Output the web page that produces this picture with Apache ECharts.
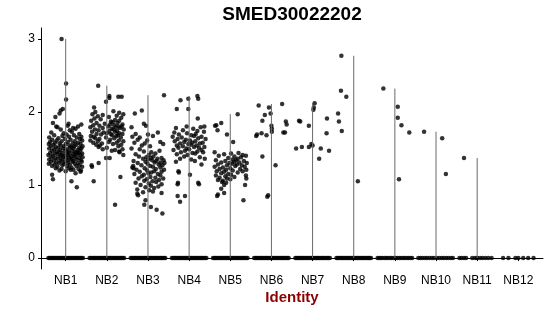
<!DOCTYPE html>
<html><head><meta charset="utf-8">
<script src="https://cdn.jsdelivr.net/npm/echarts@6/dist/echarts.min.js"></script>
<style>html,body{margin:0;padding:0;background:#fff}#c{width:550px;height:316px}</style>
</head><body><div id="c"></div>
<script>
const FONT = '"Liberation Sans", Arial, Helvetica, sans-serif';
const categories = ['NB1','NB2','NB3','NB4','NB5','NB6','NB7','NB8','NB9','NB10','NB11','NB12'];
const yTicks = [0, 1, 2, 3];

// non-zero points per group: [jitter offset (category units), expression value]
const nb1 = [
[-0.10,3.00],[0.01,2.39],[0.01,2.17],[-0.07,2.04],[-0.12,2.02],[-0.15,1.98],[-0.25,1.93],[-0.31,1.85],[-0.23,1.80],[0.07,1.84],[0.38,1.83],[-0.31,1.08],[-0.33,1.14],[0.14,1.05],[0.27,0.97],[0.37,1.20],[0.24,1.16],
[-0.20,1.79],[0.05,1.81],[0.18,1.78],[0.30,1.80],
[-0.12,1.76],[0.10,1.75],[0.24,1.77],
[-0.35,1.72],[-0.05,1.71],[0.15,1.73],[0.33,1.70],
[-0.28,1.68],[-0.08,1.67],[0.02,1.69],[0.20,1.68],[0.38,1.66],
[-0.40,1.65],[-0.18,1.64],[0.08,1.66],[0.27,1.65],[0.35,1.63],
[-0.33,1.62],[-0.22,1.61],[-0.02,1.63],[0.12,1.62],[0.22,1.60],[0.40,1.61],
[-0.38,1.59],[-0.26,1.58],[-0.10,1.60],[0.05,1.59],[0.17,1.57],[0.30,1.58],
[-0.41,1.56],[-0.30,1.55],[-0.15,1.57],[0.00,1.56],[0.09,1.54],[0.25,1.55],[0.36,1.56],
[-0.36,1.53],[-0.24,1.52],[-0.12,1.54],[-0.04,1.53],[0.14,1.52],[0.21,1.53],[0.33,1.51],[0.41,1.53],
[-0.40,1.50],[-0.28,1.49],[-0.18,1.51],[-0.06,1.50],[0.03,1.49],[0.11,1.51],[0.19,1.50],[0.29,1.48],[0.38,1.50],
[-0.33,1.47],[-0.22,1.46],[-0.13,1.48],[-0.01,1.47],[0.07,1.46],[0.16,1.47],[0.26,1.45],[0.35,1.47],
[-0.38,1.44],[-0.27,1.43],[-0.16,1.45],[-0.08,1.44],[0.02,1.43],[0.09,1.44],[0.18,1.42],[0.23,1.45],[0.31,1.44],[0.40,1.43],
[-0.42,1.41],[-0.31,1.40],[-0.20,1.42],[-0.11,1.41],[-0.03,1.40],[0.05,1.41],[0.13,1.39],[0.21,1.40],[0.28,1.42],[0.36,1.41],
[-0.35,1.38],[-0.25,1.37],[-0.14,1.39],[-0.06,1.38],[0.01,1.37],[0.08,1.38],[0.15,1.36],[0.24,1.38],[0.33,1.37],[0.41,1.38],
[-0.40,1.35],[-0.29,1.34],[-0.19,1.36],[-0.09,1.35],[0.04,1.34],[0.12,1.35],[0.19,1.33],[0.27,1.35],[0.37,1.34],
[-0.36,1.32],[-0.23,1.31],[-0.12,1.33],[-0.02,1.32],[0.06,1.31],[0.17,1.32],[0.30,1.30],[0.39,1.32],
[-0.41,1.29],[-0.27,1.28],[-0.16,1.30],[-0.05,1.29],[0.10,1.28],[0.22,1.29],[0.34,1.27],
[-0.33,1.26],[-0.20,1.25],[-0.08,1.27],[0.03,1.26],[0.14,1.24],[0.26,1.26],[0.40,1.25],
[-0.24,1.23],[-0.10,1.22],[0.07,1.23],[0.19,1.21],[0.31,1.22],
[-0.15,1.20],[0.00,1.19],[0.12,1.21],[0.36,1.18]
];
const nb2 = [
[-0.21,2.36],[-0.31,2.06],[0.28,2.21],[0.36,2.21],[0.06,2.22],[0.06,2.19],[-0.02,2.14],[-0.32,1.05],[0.20,0.73],[0.33,1.11],[-0.37,1.27],[-0.36,1.25],[-0.20,1.30],[-0.02,1.37],[0.07,1.37],[0.40,1.41],[0.31,1.45],
[-0.28,2.00],[0.16,2.01],[0.30,1.99],
[-0.35,1.97],[-0.10,1.96],[0.40,1.97],
[-0.22,1.94],[0.05,1.93],[0.24,1.95],
[-0.30,1.91],[-0.15,1.90],[0.35,1.92],
[-0.38,1.88],[0.10,1.87],[0.20,1.89],[0.30,1.88],
[-0.25,1.85],[-0.05,1.84],[0.14,1.86],[0.26,1.85],[0.38,1.83],
[-0.33,1.82],[-0.18,1.81],[0.08,1.83],[0.18,1.82],[0.28,1.80],
[-0.40,1.79],[-0.10,1.78],[0.03,1.80],[0.22,1.79],[0.32,1.78],[0.36,1.80],
[-0.29,1.76],[-0.20,1.75],[0.12,1.77],[0.16,1.76],[0.25,1.74],[0.41,1.76],
[-0.36,1.73],[-0.08,1.72],[0.06,1.74],[0.20,1.73],[0.30,1.71],
[-0.25,1.70],[-0.14,1.69],[0.00,1.71],[0.10,1.70],[0.27,1.68],[0.38,1.70],
[-0.39,1.67],[-0.32,1.66],[0.13,1.68],[0.23,1.67],[0.34,1.65],
[-0.28,1.64],[-0.18,1.63],[-0.02,1.65],[0.18,1.64],
[-0.40,1.61],[-0.22,1.60],[0.08,1.62],[0.29,1.61],[0.40,1.60],
[-0.33,1.58],[-0.12,1.57],[0.05,1.59],[0.24,1.58],
[-0.26,1.55],[-0.17,1.54],[0.15,1.56],[0.35,1.55],
[-0.20,1.52],[0.00,1.51],[0.28,1.53],
[-0.10,1.49],[0.20,1.48],[0.38,1.49],
[0.30,1.46],[0.12,1.47]
];
const nb3 = [
[0.39,2.23],[-0.15,2.02],[-0.32,1.98],[-0.10,1.84],[-0.05,1.81],[-0.40,1.79],[0.24,1.72],[0.37,1.56],[0.33,0.89],[0.35,0.61],[0.21,0.66],[0.07,0.70],[-0.09,0.73],[-0.06,0.79],[-0.26,0.88],[-0.24,0.86],[-0.35,1.23],[-0.36,1.26],
[-0.30,1.70],[0.00,1.69],
[-0.38,1.66],[-0.20,1.65],[0.12,1.67],
[-0.25,1.62],[-0.02,1.61],
[-0.33,1.58],[-0.08,1.57],[0.30,1.59],
[-0.15,1.54],[0.05,1.53],
[-0.40,1.50],[-0.20,1.49],
[-0.10,1.46],[0.08,1.45],[0.28,1.47],
[-0.30,1.42],[0.02,1.41],[0.18,1.43],
[-0.22,1.39],[-0.04,1.38],[0.13,1.39],[0.33,1.37],
[-0.12,1.36],[0.00,1.35],[0.07,1.37],[0.23,1.36],[0.38,1.34],
[-0.35,1.33],[-0.06,1.32],[0.10,1.34],[0.20,1.33],[0.30,1.31],
[-0.25,1.30],[-0.01,1.29],[0.16,1.31],[0.40,1.30],
[-0.16,1.27],[0.05,1.26],[0.26,1.28],[0.35,1.27],
[-0.38,1.24],[-0.08,1.23],[0.12,1.25],[0.30,1.24],
[-0.28,1.21],[-0.02,1.20],[0.19,1.22],[0.39,1.21],
[-0.20,1.18],[0.08,1.17],[0.15,1.19],[0.33,1.18],
[-0.33,1.15],[-0.10,1.14],[0.01,1.16],[0.24,1.15],
[-0.15,1.12],[0.06,1.11],[0.30,1.13],
[-0.23,1.09],[-0.03,1.08],[0.18,1.10],[0.37,1.09],
[-0.09,1.06],[0.11,1.05],[0.27,1.07],
[-0.30,1.03],[0.02,1.02],[0.20,1.04],
[-0.18,1.00],[0.07,0.99],[0.33,1.01],
[-0.06,0.97],[0.15,0.96],[0.25,0.98],
[-0.26,0.94],[0.03,0.93],
[0.12,0.91],[-0.12,0.90]
];
const nb4 = [
[0.20,2.22],[0.22,2.18],[-0.02,2.18],[-0.21,2.16],[-0.30,2.04],[-0.02,2.04],[0.21,1.91],[0.37,1.80],[-0.06,1.80],[0.02,1.14],[0.24,1.01],[0.22,1.03],[-0.27,1.03],[-0.28,1.01],[-0.22,0.77],[-0.10,0.85],[-0.28,0.85],[-0.25,1.17],[-0.26,1.19],
[-0.32,1.78],[0.10,1.77],[0.28,1.79],
[-0.15,1.75],[0.20,1.74],
[-0.36,1.72],[-0.05,1.71],[0.36,1.73],
[-0.25,1.69],[0.05,1.68],[0.16,1.70],
[-0.40,1.66],[-0.18,1.65],[0.12,1.67],[0.30,1.66],
[-0.28,1.63],[-0.08,1.62],[0.22,1.64],[0.40,1.63],
[-0.35,1.60],[-0.12,1.59],[0.02,1.61],[0.15,1.60],[0.33,1.58],
[-0.22,1.57],[-0.02,1.56],[0.08,1.58],[0.26,1.57],
[-0.30,1.54],[-0.15,1.53],[0.04,1.55],[0.18,1.54],[0.37,1.52],
[-0.26,1.51],[-0.06,1.50],[0.12,1.52],[0.24,1.51],
[-0.38,1.48],[-0.10,1.47],[0.00,1.49],[0.30,1.48],
[-0.20,1.45],[0.08,1.44],[0.20,1.46],[0.34,1.45],
[-0.30,1.42],[-0.04,1.41],[0.15,1.43],
[-0.12,1.39],[0.26,1.38],
[-0.22,1.36],[0.05,1.35],[0.38,1.36],
[0.14,1.33],[-0.32,1.32],
[0.30,1.28]
];
const nb5 = [
[0.18,1.97],[-0.22,1.85],[-0.34,1.82],[-0.37,1.81],[-0.31,1.75],[-0.08,1.69],[0.07,1.59],[-0.32,0.85],[-0.30,0.87],[-0.15,0.89],[0.32,0.79],[0.39,1.09],[0.39,1.21],
[-0.38,1.45],[0.20,1.44],
[-0.15,1.42],[0.02,1.43],[0.30,1.41],
[-0.28,1.40],[0.10,1.39],[0.38,1.40],
[-0.05,1.37],[0.18,1.36],[0.26,1.38],
[-0.35,1.34],[-0.12,1.33],[0.06,1.35],[0.14,1.34],[0.33,1.33],
[-0.22,1.31],[-0.02,1.30],[0.09,1.32],[0.22,1.31],[0.40,1.30],
[-0.30,1.28],[-0.08,1.27],[0.04,1.29],[0.16,1.28],[0.28,1.27],
[-0.38,1.25],[-0.18,1.24],[0.12,1.26],[0.35,1.25],
[-0.26,1.22],[-0.10,1.21],[0.00,1.23],[0.24,1.22],
[-0.33,1.19],[-0.15,1.18],[0.06,1.20],[0.30,1.19],
[-0.22,1.16],[-0.05,1.15],[0.18,1.17],
[-0.35,1.13],[-0.12,1.12],[0.02,1.14],[0.38,1.13],
[-0.26,1.10],[-0.08,1.09],[0.10,1.11],
[-0.30,1.07],[-0.18,1.06],[0.00,1.08],
[-0.20,1.04],[-0.10,1.03],
[-0.15,1.00],[0.36,1.00],
[-0.22,0.95]
];
const nb6 = [[-0.31,2.09],[-0.06,2.06],[-0.16,1.96],[-0.02,1.98],[-0.22,1.88],[0.00,1.81],[0.01,1.77],[0.01,1.73],[-0.37,1.67],[-0.35,1.69],[-0.24,1.71],[-0.12,1.68],[-0.22,1.39],[0.10,1.27],[-0.10,0.84],[-0.08,0.86],[0.26,2.11],[0.35,1.87],[0.37,1.83],[0.29,1.72],[0.33,1.72]];
const nb7 = [[-0.33,1.88],[-0.30,1.87],[-0.09,1.81],[0.05,2.12],[0.03,2.06],[0.02,2.03],[0.35,1.91],[0.34,1.71],[0.40,1.47],[-0.40,1.50],[-0.26,1.52],[-0.09,1.52],[-0.03,1.56],[0.00,1.54],[0.20,1.50],[0.16,1.36]];
const nb8 = [[-0.30,2.77],[-0.31,2.29],[-0.18,2.21],[-0.38,1.98],[-0.36,1.87],[-0.29,1.74],[0.10,1.05]];
const nb9 = [[-0.28,2.32],[0.07,2.07],[0.07,1.92],[0.16,1.82],[0.35,1.72],[0.10,1.08]];
const nb10 = [[-0.29,1.73],[0.15,1.64],[0.24,1.15]];
const nb11 = [[-0.32,1.37]];
const nb12 = [];

// jitter offsets of the cells with zero expression
const zeroDense = [-0.42,-0.39,-0.36,-0.33,-0.30,-0.27,-0.24,-0.21,-0.18,-0.15,-0.12,-0.09,-0.06,-0.03,0.00,0.03,0.06,0.09,0.12,0.15,0.18,0.21,0.24,0.27,0.30,0.33,0.36,0.39,0.42];
const zero9 = [-0.42,-0.38,-0.34,-0.30,-0.25,-0.21,-0.17,-0.12,-0.08,-0.03,0.02,0.06,0.11,0.15,0.20,0.24,0.29,0.33,0.38,0.42];
const zero10 = [-0.43,-0.38,-0.33,-0.27,-0.22,-0.16,-0.10,-0.05,0.02,0.08,0.14,0.19,0.25,0.30,0.36,0.41];
const zero11 = [-0.43,-0.38,-0.32,-0.27,-0.12,-0.05,0.00,0.07,0.13,0.20,0.27,0.35];
const zero12 = [-0.37,-0.24,-0.07,0.00,0.12,0.24,0.37];

const groups = [nb1,nb2,nb3,nb4,nb5,nb6,nb7,nb8,nb9,nb10,nb11,nb12];
const zeroGroups = [zeroDense,zeroDense,zeroDense,zeroDense,zeroDense,zeroDense,zeroDense,zeroDense,zero9,zero10,zero11,zero12];

const catPos = categories.map((c, i) => i + 1);
const pts = [];
groups.forEach((g, i) => g.forEach(p => pts.push([i + 1 + p[0], p[1]])));
zeroGroups.forEach((z, i) => z.forEach(o => pts.push([i + 1 + o, 0])));
const violin = groups.map((g, i) => [i + 1, g.length ? Math.max(...g.map(p => p[1])) : 0]).filter(d => d[1] > 0);

const chart = echarts.init(document.getElementById('c'), null, {renderer: 'canvas'});
chart.setOption({
  animation: false,
  grid: {left: 41, right: 7, top: 28, bottom: 47, containLabel: false},
  graphic: [
    {type: 'text', x: 292, y: 15, style: {text: 'SMED30022202', font: 'bold 19px ' + FONT, fill: '#000', align: 'center', verticalAlign: 'middle'}},
    {type: 'text', x: 292, y: 298, style: {text: 'Identity', font: 'bold 15px ' + FONT, fill: '#8B0000', align: 'center', verticalAlign: 'middle'}}
  ],
  xAxis: {
    type: 'value', min: 0.4, max: 12.6,
    splitLine: {show: false},
    axisLine: {show: true, lineStyle: {color: '#000', width: 1}},
    axisTick: {show: true, customValues: catPos, length: 3, lineStyle: {color: '#000'}},
    axisLabel: {customValues: catPos, formatter: v => categories[Math.round(v) - 1], color: '#000', fontSize: 12, fontFamily: FONT, margin: 6}
  },
  yAxis: {
    type: 'value', min: -0.15, max: 3.15,
    splitLine: {show: false},
    axisLine: {show: true, lineStyle: {color: '#000', width: 1}},
    axisTick: {show: true, customValues: yTicks, length: 3, lineStyle: {color: '#000'}},
    axisLabel: {customValues: yTicks, color: '#000', fontSize: 12, fontFamily: FONT, margin: 6}
  },
  series: [
    {type: 'scatter', data: pts, symbolSize: 4.5, silent: true, z: 2, itemStyle: {color: '#000'}},
    {
      type: 'custom', silent: true, data: violin, z: 3,
      renderItem: (params, api) => {
        const x = api.value(0), top = api.value(1);
        const p0 = api.coord([x, 0]), p1 = api.coord([x, top]);
        return {type: 'line', shape: {x1: p0[0], y1: p0[1], x2: p1[0], y2: p1[1]}, style: {stroke: '#6a6a6a', lineWidth: 1}};
      }
    }
  ]
});
</script></body></html>
